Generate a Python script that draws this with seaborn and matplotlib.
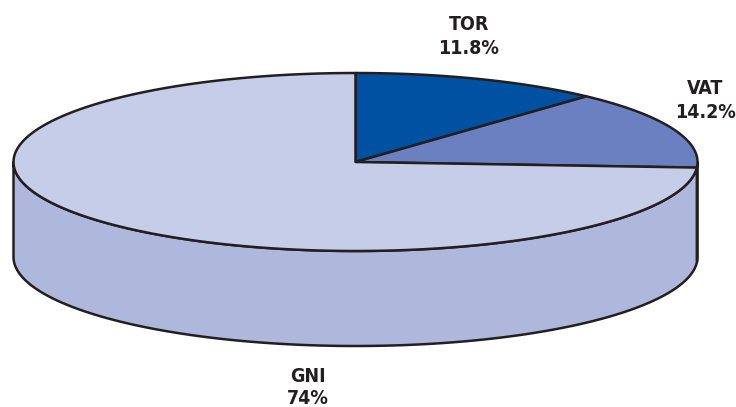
import numpy as np
import matplotlib
matplotlib.use("Agg")
import matplotlib.pyplot as plt
from matplotlib.patches import Polygon
import seaborn as sns

# Revenue shares
labels = ["TOR", "VAT", "GNI"]
shares = [11.8, 14.2, 74.0]
share_text = ["11.8%", "14.2%", "74%"]
top_colors = ["#0051a2", "#6b80c0", "#c6cde9"]
side_colors = ["#003f80", "#5668a8", "#aeb7dc"]

sns.set_theme(style="white")
plt.rcParams["font.family"] = ["DejaVu Sans"]

W, H = 736, 407
fig = plt.figure(figsize=(W / 100, H / 100), dpi=100)
ax = fig.add_axes([0, 0, 1, 1])
ax.set_xlim(0, W)
ax.set_ylim(H, 0)
ax.axis("off")

# Pie geometry (pixel units, y pointing down)
cx, cy = 355.5, 162.0
rx, ry = 342.0, 89.0
depth = 95.0
edge = "#231f20"
lw = 1.8


def pt(theta_deg, dy=0.0):
    t = np.radians(theta_deg)
    return cx + rx * np.cos(t), cy - ry * np.sin(t) + dy


def arc(t0, t1, dy=0.0, n=200):
    ts = np.linspace(t0, t1, n)
    return np.array([pt(t, dy) for t in ts])


# slices go clockwise starting at 12 o'clock
fracs = np.array(shares) / np.sum(shares)
starts = 90 - 360 * np.concatenate([[0], np.cumsum(fracs)[:-1]])
ends = starts - 360 * fracs

# side walls: visible front half lies between 180 and 360 degrees
for s, e, c in zip(starts, ends, side_colors):
    lo, hi = e, s
    for shift in (0, -360, 360):
        a0 = max(lo + shift, 180)
        a1 = min(hi + shift, 360)
        if a1 > a0:
            top = arc(a0, a1)
            bot = arc(a1, a0, depth)
            poly = np.vstack([top, bot])
            ax.add_patch(Polygon(poly, closed=True, facecolor=c,
                                 edgecolor=edge, linewidth=lw, joinstyle="round"))

# top faces
for s, e, c in zip(starts, ends, top_colors):
    pts = np.vstack([[cx, cy], arc(s, e)])
    ax.add_patch(Polygon(pts, closed=True, facecolor=c, edgecolor=edge,
                         linewidth=lw, joinstyle="round"))

# slice labels
label_pos = [(469, 24, 49), (705, 88, 113), (308, 376, 399)]
for name, txt, (x, y1, y2) in zip(labels, share_text, label_pos):
    for y, s in ((y1, name), (y2, txt)):
        ax.text(x, y, s, ha="center", va="center", fontsize=14,
                fontweight="bold", fontstretch="condensed", color=edge)

fig.savefig("out.png", dpi=100, facecolor="white")
